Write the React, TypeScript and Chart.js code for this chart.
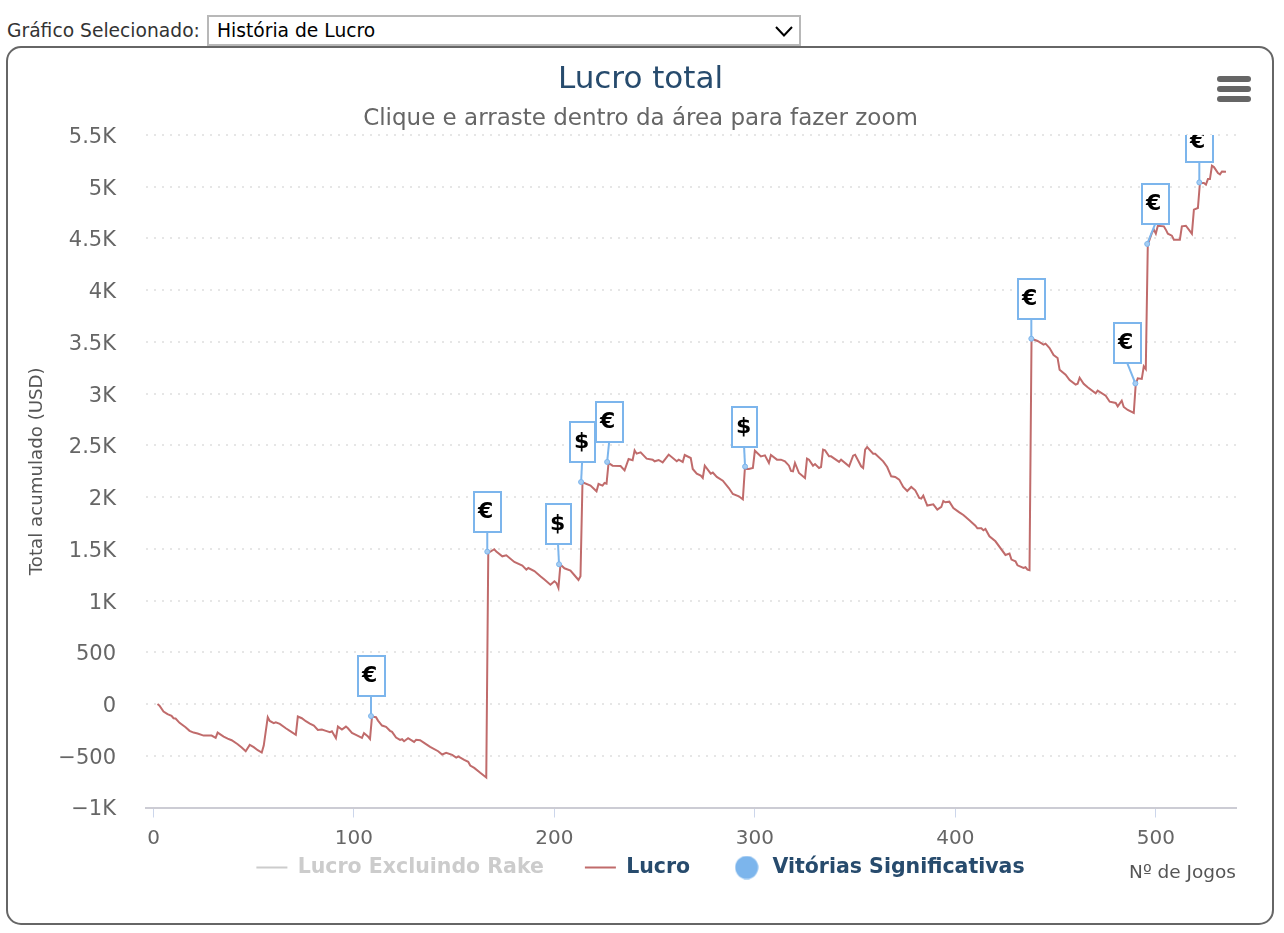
import React, { useEffect, useRef } from "react";
import { Chart, registerables } from "chart.js";

Chart.register(...registerables);

const FONT = '"DejaVu Sans", sans-serif';

const pageTitle = "Lucro total";
const pageSubtitle = "Clique e arraste dentro da área para fazer zoom";
const yAxisTitle = "Total acumulado (USD)";
const xAxisTitle = "Nº de Jogos";
const selectLabel = "Gráfico Selecionado:";
const selectValue = "História de Lucro";
const seriesNames = ["Lucro Excluindo Rake", "Lucro", "Vitórias Significativas"];

// [game, cumulative profit in USD]
const lucroSerie: [number, number][] = [
  [2,0],[3,-15],[5,-72],[7,-98],[9,-114],[10,-137],[11,-140],[13,-182],[16,-224],[18,-259],[20,-276],[22,-285],[25,-305],[29,-305],[31,-327],[32,-276],[35,-314],[37,-334],[39,-350],[42,-388],[44,-420],[46,-456],[48,-395],[50,-417],[52,-446],[54,-469],[55,-401],[57,-127],[58,-163],[60,-185],[61,-176],[63,-192],[66,-234],[68,-259],[71,-298],[72,-121],[74,-137],[76,-166],[78,-189],[80,-208],[82,-250],[84,-247],[86,-259],[88,-272],[89,-263],[91,-330],[92,-218],[94,-247],[96,-218],[97,-234],[99,-279],[101,-298],[104,-327],[105,-282],[107,-314],[108,-337],[109,-121],[111,-127],[112,-160],[114,-208],[116,-221],[118,-259],[119,-269],[121,-324],[123,-346],[124,-340],[125,-359],[127,-330],[130,-366],[131,-346],[133,-350],[135,-375],[138,-414],[142,-456],[144,-488],[146,-472],[149,-491],[151,-517],[152,-507],[155,-540],[157,-559],[158,-594],[160,-617],[163,-665],[166,-710],
  [167,1460],[170,1496],[171,1473],[174,1428],[176,1438],[180,1373],[184,1338],[186,1299],[187,1315],[190,1286],[193,1235],[195,1203],[198,1154],[200,1187],[201,1170],[202,1122],[203,1348],[205,1312],[208,1290],[210,1245],[212,1199],[213,1235],
  [214,2143],[218,2111],[221,2056],[222,2127],[224,2111],[225,2137],[226,2130],[227,2330],[229,2304],[233,2301],[235,2259],[237,2369],[239,2356],[240,2452],[241,2420],[243,2433],[246,2372],[249,2362],[250,2346],[252,2359],[254,2336],[257,2411],[261,2346],[262,2362],[264,2340],[265,2407],[268,2378],[269,2272],[271,2227],[273,2208],[274,2185],[275,2304],[278,2227],[279,2237],[281,2195],[284,2159],[287,2088],[289,2030],[292,2008],[294,1979],
  [295,2275],[297,2272],[299,2282],[300,2449],[303,2394],[305,2404],[307,2330],[308,2407],[311,2362],[313,2362],[315,2346],[317,2304],[318,2253],[319,2249],[320,2330],[322,2233],[325,2185],[326,2372],[327,2362],[329,2304],[330,2320],[332,2282],[333,2291],[334,2459],[335,2452],[337,2394],[338,2394],[342,2340],[343,2362],[347,2298],[349,2401],[350,2410],[353,2298],[354,2282],[355,2459],[356,2484],[359,2420],[360,2420],[364,2346],[366,2291],[368,2201],[370,2195],[372,2169],[374,2098],[376,2059],[378,2098],[380,2066],[382,1992],[383,1985],[384,2014],[386,1918],[389,1930],[391,1879],[393,1905],[394,1963],[395,1950],[397,1956],[399,1895],[402,1853],[404,1827],[407,1776],[410,1724],[411,1699],[413,1699],[414,1679],[415,1692],[417,1621],[420,1573],[425,1441],[427,1454],[428,1396],[430,1380],[431,1341],[434,1315],[435,1322],[436,1299],[437,1293],
  [438,3531],[441,3509],[444,3473],[445,3483],[447,3441],[449,3373],[451,3344],[452,3232],[455,3183],[457,3132],[460,3087],[461,3096],[462,3154],[464,3096],[466,3061],[470,3003],[471,3029],[475,2980],[477,2922],[480,2910],[481,2877],[483,2932],[484,2871],[486,2842],[489,2813],[490,3096],[491,3148],[493,3142],[494,3264],[495,3238],
  [496,4440],[498,4552],[499,4585],[500,4546],[501,4623],[504,4617],[505,4585],[506,4546],[508,4527],[509,4488],[512,4488],[513,4617],[515,4623],[518,4546],[519,4778],[521,4794],[522,5036],[524,5036],[525,5020],[526,5074],[527,5074],[528,5203],[529,5190],[531,5132],[532,5119],[533,5148],[535,5145],
];

const flagGames = [108.5, 166.5, 202.3, 213.3, 226.3, 295.1, 437.9, 489.8, 495.7, 521.7];
const flagValues = [-116, 1473, 1351, 2146, 2340, 2295, 3531, 3099, 4447, 5042];
const flagSymbols = ["€", "€", "$", "$", "€", "$", "€", "€", "€", "€"];
const flagShifts = [0, 0, -1, 1, 2, -1, 0, -8, 8, 0];

const CHEVRON =
  "data:image/svg+xml;utf8," +
  encodeURIComponent(
    '<svg xmlns="http://www.w3.org/2000/svg" width="18" height="11"><path d="M1 1 L9 9.5 L17 1" fill="none" stroke="black" stroke-width="2"/></svg>'
  );

const flagPlugin = {
  id: "flags",
  afterDatasetDraw(chart: any, args: any) {
    if (args.index !== 1) return;
    const { ctx, chartArea, scales } = chart;
    ctx.save();
    ctx.beginPath();
    ctx.rect(chartArea.left, chartArea.top, chartArea.right - chartArea.left, chartArea.bottom - chartArea.top);
    ctx.clip();
    flagGames.forEach((g, i) => {
      const px = scales.x.getPixelForValue(g);
      const py = scales.y.getPixelForValue(flagValues[i]);
      const symbol = flagSymbols[i];
      const w = symbol === "€" ? 27 : 25;
      const h = 40;
      const bottom = py - 20;
      const cx = px + flagShifts[i];
      ctx.strokeStyle = "#7cb5ec";
      ctx.lineWidth = 2;
      ctx.beginPath();
      ctx.moveTo(px, py);
      ctx.lineTo(cx, bottom);
      ctx.stroke();
      ctx.fillStyle = "#ffffff";
      ctx.beginPath();
      ctx.rect(Math.round(cx - w / 2), Math.round(bottom - h), w, h);
      ctx.fill();
      ctx.stroke();
      ctx.fillStyle = "#000000";
      ctx.font = `bold 22px ${FONT}`;
      ctx.textAlign = "left";
      ctx.textBaseline = "middle";
      ctx.fillText(symbol, Math.round(cx - w / 2) + 4, Math.round(bottom - h / 2));
    });
    ctx.restore();
  },
};

const layoutFixPlugin = {
  id: "layoutFix",
  beforeLayout(chart: any) {
    if (chart.legend) {
      chart.legend.afterFit = function () {
        this.height = 0;
      };
    }
  },
  afterLayout(chart: any) {
    chart.boxes.forEach((box: any) => {
      if (box.fullSize) {
        box.left = 0;
        box.right = chart.width;
        box.width = chart.width;
      }
    });
    if (chart.legend) {
      chart.legend.top = 767.25;
      chart.legend.bottom = chart.height;
    }
  },
};

function formatTick(v: number) {
  const abs = Math.abs(v);
  const text = abs >= 1000 ? `${abs / 1000}K` : `${abs}`;
  return v < 0 ? `\u2212${text}` : text;
}

export default function App() {
  const ref = useRef<HTMLCanvasElement | null>(null);

  useEffect(() => {
    if (!ref.current) return;
    const dot = document.createElement("canvas");
    dot.width = 24;
    dot.height = 24;
    const dc = dot.getContext("2d")!;
    dc.fillStyle = "#7cb5ec";
    dc.beginPath();
    dc.arc(12, 12, 11.5, 0, Math.PI * 2);
    dc.fill();

    const chart = new Chart(ref.current, {
      type: "line",
      data: {
        datasets: [
          { label: seriesNames[0], data: [], hidden: true, borderColor: "#cccccc", pointRadius: 0 },
          {
            label: seriesNames[1],
            data: lucroSerie.map(([x, y]) => ({ x, y })),
            borderColor: "#c06b6b",
            borderWidth: 2,
            pointRadius: 0,
            tension: 0,
          },
          {
            label: seriesNames[2],
            data: flagGames.map((x, i) => ({ x, y: flagValues[i] })),
            showLine: false,
            pointRadius: 2.5,
            pointBorderWidth: 1,
            pointBackgroundColor: "#a5cdf3",
            pointBorderColor: "#7cb5ec",
            order: -1,
          },
        ],
      } as any,
      options: {
        responsive: false,
        animation: false,
        events: [],
        font: { family: FONT },
        layout: { padding: { left: 0, right: 36, top: 0, bottom: -31 } },
        scales: {
          x: {
            type: "linear",
            min: -3.74,
            max: 540,
            afterFit: (s: any) => {
              s.height = 74;
            },
            grid: { drawOnChartArea: false, drawTicks: true, tickLength: 10, tickColor: "#ccd6eb", tickWidth: 1 },
            border: { display: true, color: "#ccccd4", width: 2 },
            ticks: {
              stepSize: 100,
              includeBounds: false,
              autoSkip: false,
              maxRotation: 0,
              padding: 9,
              color: "#666666",
              font: { family: FONT, size: 20 },
              callback: (v: any) => `${v}`,
            },
            title: {
              display: true,
              text: xAxisTitle,
              align: "end",
              color: "#555555",
              padding: { top: 0, bottom: -3 },
              font: { family: FONT, size: 18.5 },
            },
          },
          y: {
            min: -1000,
            max: 5500,
            afterFit: (s: any) => {
              s.width = 137;
            },
            grid: { color: "#e6e6e6", lineWidth: 2, drawTicks: false },
            border: { display: false, dash: [2, 6] },
            ticks: {
              stepSize: 500,
              padding: 30,
              labelOffset: 2.5,
              color: "#666666",
              font: { family: FONT, size: 21 },
              callback: (v: any) => formatTick(Number(v)),
            },
            title: {
              display: true,
              text: yAxisTitle,
              color: "#555555",
              padding: { top: 17, bottom: 0 },
              font: { family: FONT, size: 18.2 },
            },
          },
        },
        plugins: {
          title: {
            display: true,
            text: pageTitle,
            color: "#274b6d",
            padding: { top: 12.4, bottom: 0 },
            font: { family: FONT, size: 31, weight: "normal" },
          },
          subtitle: {
            display: true,
            text: pageSubtitle,
            color: "#666666",
            padding: { top: 6.6, bottom: 2.2 },
            font: { family: FONT, size: 23, weight: "normal" },
          },
          tooltip: { enabled: false },
          legend: {
            display: true,
            position: "bottom",
            labels: {
              usePointStyle: true,
              pointStyleWidth: 31,
              padding: 41,
              font: { family: FONT, size: 20.5, weight: "bold" },
              generateLabels: () => [
                { text: seriesNames[0], fontColor: "#cccccc", strokeStyle: "#cccccc", fillStyle: "#cccccc", lineWidth: 2, pointStyle: "line", hidden: false, datasetIndex: 0 },
                { text: seriesNames[1], fontColor: "#274b6d", strokeStyle: "#c06b6b", fillStyle: "#c06b6b", lineWidth: 2, pointStyle: "line", hidden: false, datasetIndex: 1 },
                { text: seriesNames[2], fontColor: "#274b6d", strokeStyle: "#7cb5ec", fillStyle: "#7cb5ec", lineWidth: 0, pointStyle: dot, hidden: false, datasetIndex: 2 },
              ],
            },
          },
        },
      } as any,
      plugins: [flagPlugin, layoutFixPlugin] as any,
    });
    return () => chart.destroy();
  }, []);

  const bar = (top: number): React.CSSProperties => ({
    position: "absolute",
    left: 1217,
    top,
    width: 34,
    height: 6,
    borderRadius: 3,
    background: "#666666",
  });

  return (
    <div style={{ fontFamily: FONT }}>
      <label
        style={{ position: "absolute", left: 7, top: 20, fontSize: 18.7, color: "#333333", whiteSpace: "nowrap" }}
      >
        {selectLabel}
      </label>
      <select
        defaultValue={selectValue}
        style={{
          position: "absolute",
          left: 207,
          top: 15,
          width: 594,
          height: 31,
          boxSizing: "border-box",
          border: "2px solid #b8b8b8",
          borderRadius: 0,
          appearance: "none",
          backgroundColor: "#ffffff",
          backgroundImage: `url("${CHEVRON}")`,
          backgroundRepeat: "no-repeat",
          backgroundPosition: "566px 9px",
          color: "#000000",
          fontFamily: FONT,
          fontSize: 18.7,
          paddingLeft: 8,
          outline: "none",
        }}
      >
        <option>{selectValue}</option>
      </select>
      <div
        style={{
          position: "absolute",
          left: 6,
          top: 46,
          width: 1268,
          height: 879,
          boxSizing: "border-box",
          border: "2px solid #666666",
          borderRadius: 15,
          background: "#ffffff",
        }}
      >
        <canvas ref={ref} width={1263} height={873} style={{ display: "block", position: "absolute", left: 1, top: 1 }} />
      </div>
      <div style={bar(76)} />
      <div style={bar(86)} />
      <div style={bar(96)} />
    </div>
  );
}
